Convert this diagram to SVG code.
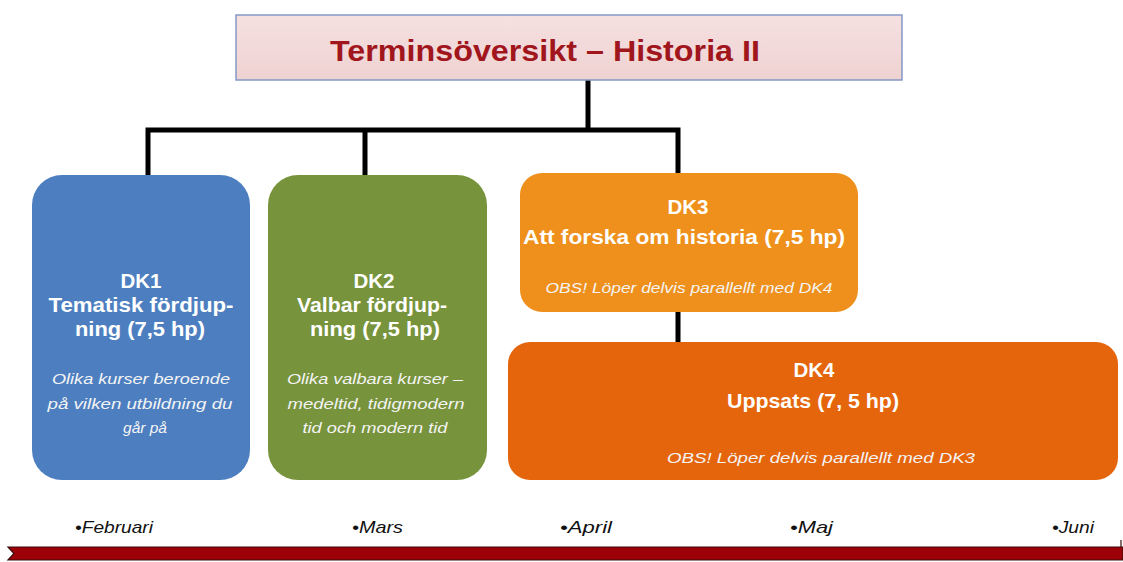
<svg xmlns="http://www.w3.org/2000/svg" width="1123" height="562" viewBox="0 0 1123 562">
<defs>
<linearGradient id="tg" x1="0" y1="0" x2="0" y2="1">
<stop offset="0" stop-color="#f6e0e0"/>
<stop offset="1" stop-color="#efd2d2"/>
</linearGradient>
<style>
.b{font-family:"Liberation Sans",Arial,sans-serif;font-weight:bold;font-size:20.5px;fill:#ffffff;text-anchor:middle}
.i{font-family:"Liberation Sans",Arial,sans-serif;font-style:italic;font-size:15.5px;fill:#f4f4f4;text-anchor:middle}
.m{font-family:"Liberation Sans",Arial,sans-serif;font-style:italic;font-size:16.5px;fill:#111111}
.c{stroke:#000000;stroke-width:5;fill:none;stroke-linecap:square}
</style>
</defs>
<rect width="1123" height="562" fill="#ffffff"/>
<g id="connectors">
<path class="c" d="M588 82 V130 M148 130 H678 M148 130 V176 M365 130 V176 M678 130 V174 M678 312 V342"/>
</g>
<g id="title">
<rect x="236" y="15" width="666" height="65" fill="url(#tg)" stroke="#8599c6" stroke-width="1.5"/>
<text x="545" y="61" font-family="'Liberation Sans',Arial,sans-serif" font-weight="bold" font-size="30" fill="#a0161c" text-anchor="middle" textLength="430" lengthAdjust="spacingAndGlyphs">Terminsöversikt – Historia II</text>
</g>
<g id="dk1">
<rect x="32" y="175" width="218" height="305" rx="30" fill="#4d7fc0"/>
<text class="b" x="141" y="288">DK1</text>
<text class="b" x="141" y="312" textLength="185" lengthAdjust="spacingAndGlyphs">Tematisk fördjup-</text>
<text class="b" x="140" y="336" textLength="130" lengthAdjust="spacingAndGlyphs">ning (7,5 hp)</text>
<text class="i" x="141" y="384" textLength="178" lengthAdjust="spacingAndGlyphs">Olika kurser beroende</text>
<text class="i" x="140" y="409" textLength="185" lengthAdjust="spacingAndGlyphs">på vilken utbildning du</text>
<text class="i" x="145" y="433">går på</text>
</g>
<g id="dk2">
<rect x="268" y="175" width="219" height="305" rx="30" fill="#77933c"/>
<text class="b" x="374" y="288">DK2</text>
<text class="b" x="372" y="312" textLength="150" lengthAdjust="spacingAndGlyphs">Valbar fördjup-</text>
<text class="b" x="375" y="336" textLength="130" lengthAdjust="spacingAndGlyphs">ning (7,5 hp)</text>
<text class="i" x="375" y="384" textLength="176" lengthAdjust="spacingAndGlyphs">Olika valbara kurser –</text>
<text class="i" x="376" y="409" textLength="177" lengthAdjust="spacingAndGlyphs">medeltid, tidigmodern</text>
<text class="i" x="375" y="433" textLength="145" lengthAdjust="spacingAndGlyphs">tid och modern tid</text>
</g>
<g id="dk3">
<rect x="520" y="173" width="338" height="139" rx="22" fill="#ee901b"/>
<text class="b" x="688" y="214">DK3</text>
<text class="b" x="684" y="244" textLength="322" lengthAdjust="spacingAndGlyphs">Att forska om historia (7,5 hp)</text>
<text class="i" x="689" y="293" textLength="287" lengthAdjust="spacingAndGlyphs">OBS! Löper delvis parallellt med DK4</text>
</g>
<g id="dk4">
<rect x="508" y="342" width="610" height="138" rx="22" fill="#e5650c"/>
<text class="b" x="814" y="377">DK4</text>
<text class="b" x="813" y="408" textLength="172" lengthAdjust="spacingAndGlyphs">Uppsats (7, 5 hp)</text>
<text class="i" x="821" y="463" textLength="308" lengthAdjust="spacingAndGlyphs">OBS! Löper delvis parallellt med DK3</text>
</g>
<g id="timeline">
<text class="m" x="75" y="533" textLength="78" lengthAdjust="spacingAndGlyphs">•Februari</text>
<text class="m" x="352" y="533" textLength="51" lengthAdjust="spacingAndGlyphs">•Mars</text>
<text class="m" x="560" y="533" textLength="52" lengthAdjust="spacingAndGlyphs">•April</text>
<text class="m" x="790" y="533" textLength="43" lengthAdjust="spacingAndGlyphs">•Maj</text>
<text class="m" x="1052" y="533" textLength="42" lengthAdjust="spacingAndGlyphs">•Juni</text>
<path d="M8 547 H1123 V560 H8 L14 553.5 Z" fill="#9c0006" stroke="#3a0a0a" stroke-width="1.2"/>
<line x1="1121" y1="540" x2="1121" y2="547" stroke="#3a0a0a" stroke-width="1.2"/>
</g>
</svg>
